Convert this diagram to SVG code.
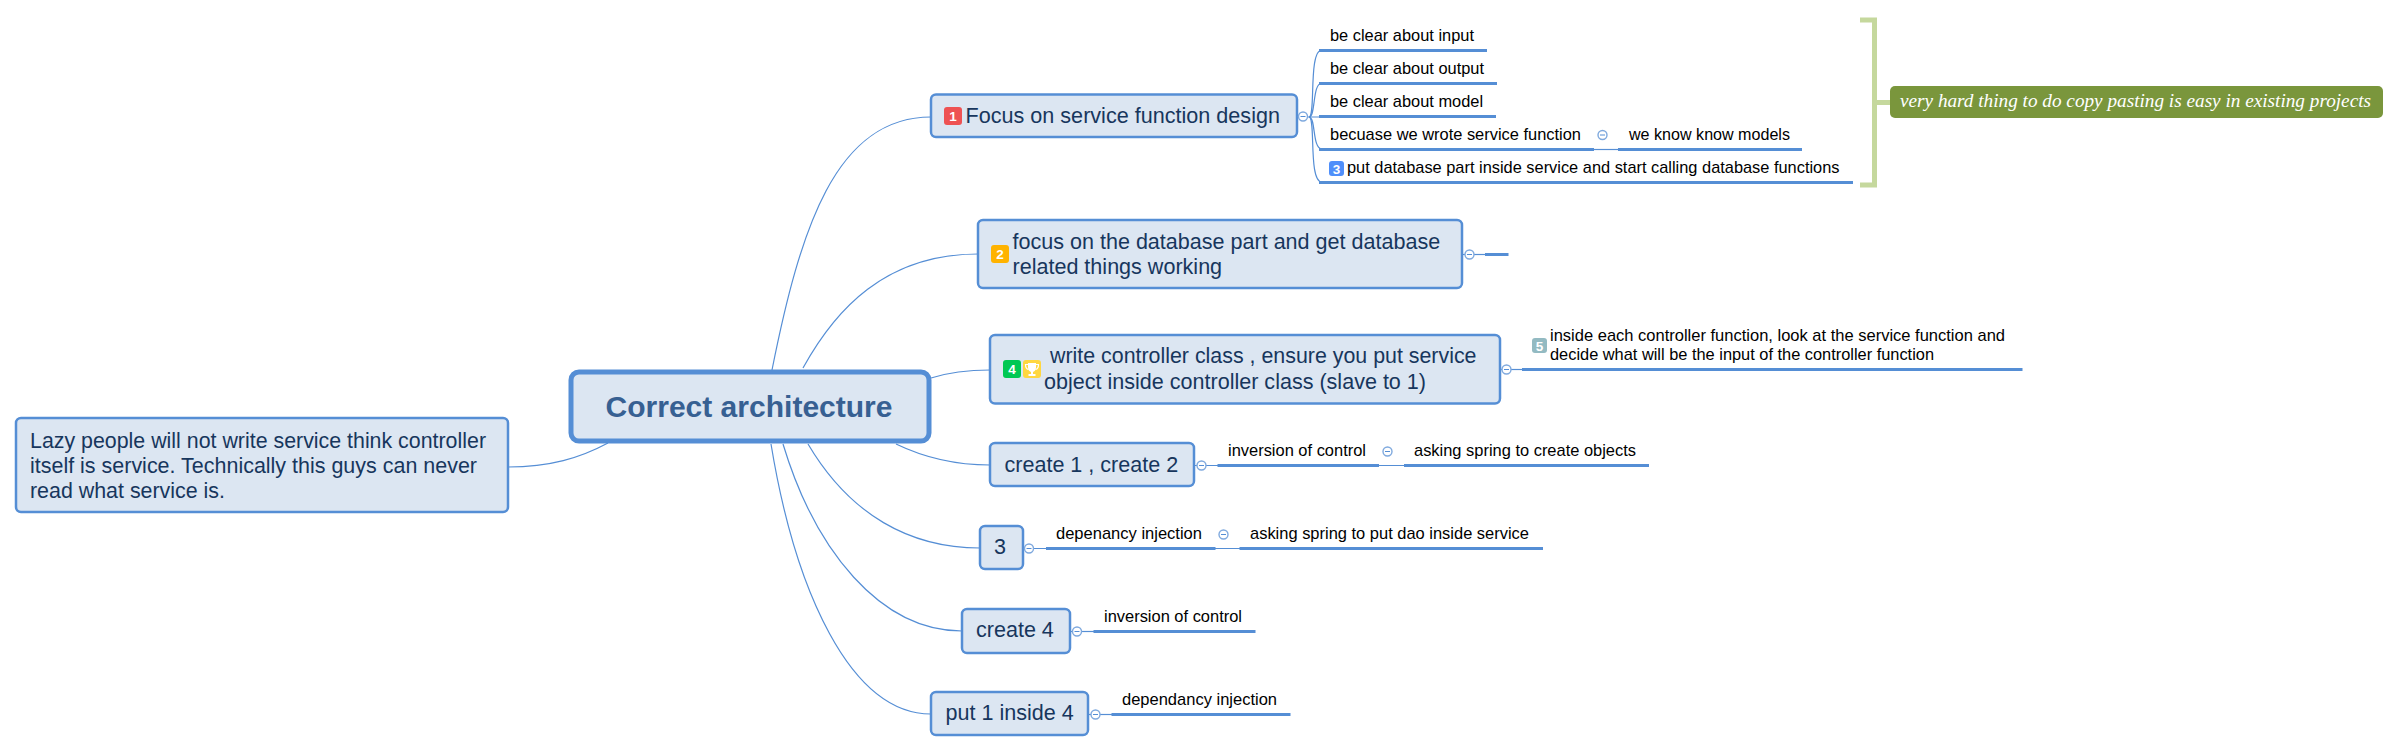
<svg xmlns="http://www.w3.org/2000/svg" width="2398" height="752" viewBox="0 0 2398 752">
<style>
text{font-family:"Liberation Sans",Arial,sans-serif;}
.n{fill:#dce6f2;stroke:#558ed5;stroke-width:2.5}
.t{font-size:21.55px;fill:#17365d}
.l{font-size:16.4px;fill:#000}
.c{fill:none;stroke:#558ed5;stroke-width:1.2}
.u{fill:none;stroke:#558ed5;stroke-width:3}
.o{fill:#fff;stroke:#7fa9de;stroke-width:1.4}
.m{stroke:#558ed5;stroke-width:1}
.b{font-size:13.5px;font-weight:bold;fill:#fff;text-anchor:middle}
</style>
<defs>
<g id="tog"><circle class="o" r="4.5"/><path class="m" d="M-2.500 0H2.500"/></g>
</defs>
<g id="connectors">
<path class="c" d="M772 370C800 230 835 117 931 117"/>
<path class="c" d="M803 368C835 310 885 254 978 254"/>
<path class="c" d="M931 378C950 372 970 370 990 370"/>
<path class="c" d="M896 444C925 458 955 465 990 465"/>
<path class="c" d="M808 444C850 515 910 548 980 548"/>
<path class="c" d="M783 444C815 550 880 631 962 631"/>
<path class="c" d="M771 444C795 590 850 714 931 714"/>
<path class="c" d="M608 443C580 458 550 467 508 467"/>
<path class="c" d="M1297 117H1330"/>
<path class="c" d="M1309 117C1316 117 1308 50 1322 50"/>
<path class="c" d="M1309 117C1316 117 1312 83 1322 83"/>
<path class="c" d="M1309 117C1316 117 1312 149 1322 149"/>
<path class="c" d="M1309 117C1316 117 1308 182 1322 182"/>
<path class="u" d="M1319 50.500H1487M1319 83.500H1497M1319 116.500H1496M1319 149.500H1594M1618 149.500H1802M1319 182.500H1853"/>
<path class="c" d="M1594 149.500H1618"/>
<path class="c" d="M1463 254.500H1485"/>
<path class="u" d="M1485 254.500H1508.500"/>
<path class="c" d="M1500 369.500H1522"/>
<path class="u" d="M1522 369.500H2022.500"/>
<path class="c" d="M1194 465.500H1218M1379 465.500H1404"/>
<path class="u" d="M1217.500 465.500H1379M1404 465.500H1649"/>
<path class="c" d="M1023 548.500H1046M1215 548.500H1240"/>
<path class="u" d="M1046 548.500H1215.500M1239.500 548.500H1543"/>
<path class="c" d="M1070 631.500H1094"/>
<path class="u" d="M1093.500 631.500H1255.500"/>
<path class="c" d="M1088 714.500H1112"/>
<path class="u" d="M1111.500 714.500H1290.500"/>
<path d="M1860 20H1874.500V185H1860M1874.500 102.500H1890" fill="none" stroke="#c5d89d" stroke-width="5"/>
</g>
<g id="root"><rect x="571" y="372" width="358" height="69" rx="8" fill="#dce6f2" stroke="#558ed5" stroke-width="5"/><text x="605.500" y="417" font-size="30.1px" font-weight="bold" fill="#376092" textLength="287" lengthAdjust="spacingAndGlyphs">Correct architecture</text></g>
<g id="node-lazy"><rect class="n" x="16" y="418" width="492" height="94" rx="5"/><text class="t" x="30" y="448" textLength="456" lengthAdjust="spacingAndGlyphs">Lazy people will not write service think controller</text><text class="t" x="30" y="473" textLength="447" lengthAdjust="spacingAndGlyphs">itself is service. Technically this guys can never</text><text class="t" x="30" y="498" textLength="195" lengthAdjust="spacingAndGlyphs">read what service is.</text></g>
<g id="node-focus"><rect class="n" x="931" y="94.500" width="366" height="42.500" rx="5"/><rect x="944" y="107" width="18" height="18" rx="3" fill="#ee5253"/><text class="b" x="953" y="121">1</text><text class="t" x="965.500" y="123" textLength="314.500" lengthAdjust="spacingAndGlyphs">Focus on service function design</text><use href="#tog" x="1303" y="116.500"/></g>
<g id="leaf-input"><text class="l" x="1330" y="41">be clear about input</text></g>
<g id="leaf-output"><text class="l" x="1330" y="74">be clear about output</text></g>
<g id="leaf-model"><text class="l" x="1330" y="107">be clear about model</text></g>
<g id="leaf-becuase"><text class="l" x="1330" y="140" textLength="251" lengthAdjust="spacingAndGlyphs">becuase we wrote service function</text><use href="#tog" x="1602.500" y="135"/></g>
<g id="leaf-models"><text class="l" x="1629" y="140" textLength="161" lengthAdjust="spacingAndGlyphs">we know know models</text></g>
<g id="leaf-put"><rect x="1329" y="161" width="15" height="15" rx="3" fill="#4f8ffa"/><text class="b" x="1336.500" y="173.500">3</text><text class="l" x="1347" y="173" textLength="492.500" lengthAdjust="spacingAndGlyphs">put database part inside service and start calling database functions</text></g>
<g id="note"><rect x="1890" y="86" width="493" height="32" rx="5" fill="#7a963c"/><text x="1900" y="107" font-size="18px" font-style="italic" fill="#fff" style="font-family:'Liberation Serif',Georgia,serif" textLength="471" lengthAdjust="spacingAndGlyphs">very hard thing to do copy pasting is easy in existing projects</text></g>
<g id="node-db"><rect class="n" x="978" y="220" width="484" height="68" rx="5"/><rect x="991" y="245" width="18" height="18" rx="3" fill="#ffb300"/><text class="b" x="1000" y="259">2</text><text class="t" x="1012.500" y="249">focus on the database part and get database</text><text class="t" x="1012.500" y="274">related things working</text><use href="#tog" x="1469.500" y="254.500"/></g>
<g id="node-controller"><rect class="n" x="990" y="335" width="510" height="68.500" rx="5"/><rect x="1003" y="360" width="18" height="18" rx="3" fill="#00c853"/><text class="b" x="1012" y="374">4</text><rect x="1023" y="360" width="18" height="18" rx="3" fill="#ffd740"/><path d="M1028 363H1036V367.500C1036 370.500 1034 371.500 1033 372V374H1035.500V376H1028.500V374H1031V372C1030 371.500 1028 370.500 1028 367.500Z" fill="#fff"/><path d="M1028 364.500H1025.500C1025.500 367.500 1026.500 369 1028.500 369.500M1036 364.500H1038.500C1038.500 367.500 1037.500 369 1035.500 369.500" fill="none" stroke="#fff" stroke-width="1.200"/><text class="t" x="1050" y="363" textLength="426.500" lengthAdjust="spacingAndGlyphs">write controller class , ensure you put service</text><text class="t" x="1044" y="389" textLength="382" lengthAdjust="spacingAndGlyphs">object inside controller class (slave to 1)</text><use href="#tog" x="1506.500" y="369.500"/></g>
<g id="leaf-inside"><rect x="1532" y="338" width="15" height="15" rx="3" fill="#93bac2"/><text class="b" x="1539.500" y="350.500">5</text><text class="l" x="1550" y="341" textLength="455" lengthAdjust="spacingAndGlyphs">inside each controller function, look at the service function and</text><text class="l" x="1550" y="360" textLength="384" lengthAdjust="spacingAndGlyphs">decide what will be the input of the controller function</text></g>
<g id="node-create12"><rect class="n" x="990" y="443" width="204" height="43" rx="5"/><text class="t" x="1004.500" y="472">create 1 , create 2</text><use href="#tog" x="1201.500" y="465.500"/></g>
<g id="leaf-ioc"><text class="l" x="1228" y="456" textLength="138" lengthAdjust="spacingAndGlyphs">inversion of control</text><use href="#tog" x="1387.500" y="451.500"/></g>
<g id="leaf-spring"><text class="l" x="1414" y="456" textLength="222" lengthAdjust="spacingAndGlyphs">asking spring to create objects</text></g>
<g id="node-3"><rect class="n" x="980" y="526" width="43" height="43" rx="5"/><text class="t" x="994" y="554">3</text><use href="#tog" x="1029" y="548.500"/></g>
<g id="leaf-di"><text class="l" x="1056" y="539" textLength="146" lengthAdjust="spacingAndGlyphs">depenancy injection</text><use href="#tog" x="1223.500" y="534.500"/></g>
<g id="leaf-dao"><text class="l" x="1250" y="539" textLength="279" lengthAdjust="spacingAndGlyphs">asking spring to put dao inside service</text></g>
<g id="node-create4"><rect class="n" x="962" y="609" width="108" height="44" rx="5"/><text class="t" x="976" y="637">create 4</text><use href="#tog" x="1077" y="631.500"/></g>
<g id="leaf-ioc2"><text class="l" x="1104" y="622" textLength="138" lengthAdjust="spacingAndGlyphs">inversion of control</text></g>
<g id="node-put1"><rect class="n" x="931" y="692" width="157" height="43" rx="5"/><text class="t" x="945.500" y="720">put 1 inside 4</text><use href="#tog" x="1095.500" y="714.500"/></g>
<g id="leaf-dep"><text class="l" x="1122" y="705" textLength="155" lengthAdjust="spacingAndGlyphs">dependancy injection</text></g>
</svg>
